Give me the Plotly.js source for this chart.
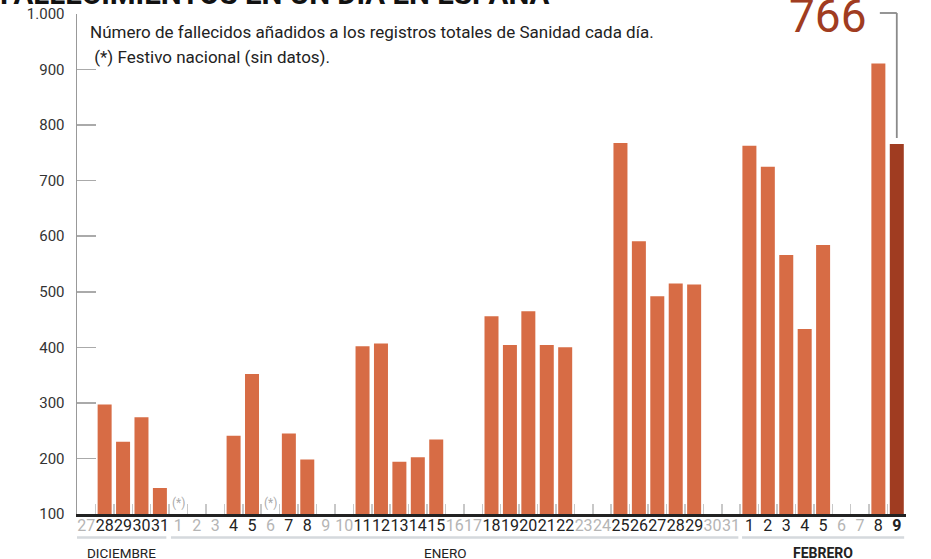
<!DOCTYPE html>
<html>
<head>
<meta charset="utf-8">
<script src="https://cdn.plot.ly/plotly-3.0.1.min.js"></script>
<style>html,body{margin:0;padding:0;background:#fff;}#chart{width:931px;height:559px;}</style>
</head>
<body>
<div id="chart"></div>
<script>
// ---- data ----
const dates = [
  "2020-12-27","2020-12-28","2020-12-29","2020-12-30","2020-12-31",
  "2021-01-01","2021-01-02","2021-01-03","2021-01-04","2021-01-05","2021-01-06","2021-01-07","2021-01-08","2021-01-09","2021-01-10",
  "2021-01-11","2021-01-12","2021-01-13","2021-01-14","2021-01-15","2021-01-16","2021-01-17","2021-01-18","2021-01-19","2021-01-20",
  "2021-01-21","2021-01-22","2021-01-23","2021-01-24","2021-01-25","2021-01-26","2021-01-27","2021-01-28","2021-01-29","2021-01-30","2021-01-31",
  "2021-02-01","2021-02-02","2021-02-03","2021-02-04","2021-02-05","2021-02-06","2021-02-07","2021-02-08","2021-02-09"
];
const dayLabels = [
  "27","28","29","30","31",
  "1","2","3","4","5","6","7","8","9","10",
  "11","12","13","14","15","16","17","18","19","20",
  "21","22","23","24","25","26","27","28","29","30","31",
  "1","2","3","4","5","6","7","8","9"
];
const deaths = [
  null,297,230,274,147,
  null,null,null,241,352,null,245,198,null,null,
  402,407,194,202,234,null,null,456,404,465,
  404,400,null,null,768,591,492,515,513,null,null,
  763,725,566,433,584,null,null,911,766
];
const holidays = ["2021-01-01","2021-01-06"];
const months = ["DICIEMBRE","ENERO","FEBRERO"];
const yTicks = [100,200,300,400,500,600,700,800,900,1000];

// ---- styling ----
const barColor = "#d76c45";
const lastColor = "#a03c21";
const lastIdx = deaths.length - 1;
const colors = deaths.map((v,i) => i === lastIdx ? lastColor : barColor);
const tickText = dayLabels.map((d,i) => {
  if (deaths[i] === null) return '<span style="color:#b5b5b5">' + d + '</span>';
  if (i === lastIdx) return '<b>' + d + '</b>';
  return d;
});

const FONT = "Roboto, 'Open Sans', sans-serif";
const lastVal = deaths[lastIdx];
const lastPaperY = (lastVal - 100) / 900;

const shapes = [
  // month brackets
  {type:'line', xref:'x', yref:'paper', x0:-0.5, x1:4.35, y0:-0.047, y1:-0.047, line:{color:'#d5d9dd', width:2.5}},
  {type:'line', xref:'x', yref:'paper', x0:4.6, x1:35.4, y0:-0.047, y1:-0.047, line:{color:'#d5d9dd', width:2.5}},
  {type:'line', xref:'x', yref:'paper', x0:35.6, x1:44.4, y0:-0.047, y1:-0.047, line:{color:'#d5d9dd', width:2.5}},
  // leader line for last value
  {type:'line', xref:'x', yref:'paper', x0:lastIdx-0.92, x1:lastIdx, y0:1.002, y1:1.002, line:{color:'#8a8a8a', width:1.8}},
  {type:'line', xref:'x', yref:'paper', x0:lastIdx, x1:lastIdx, y0:1.002, y1:lastPaperY + 0.012, line:{color:'#8a8a8a', width:1.8}}
];

const annotations = [
  {text:'Número de fallecidos añadidos a los registros totales de Sanidad cada día.', xref:'paper', yref:'paper', x:0.0133, y:0.964, xanchor:'left', yanchor:'middle', showarrow:false, font:{family:FONT, size:17, color:'#222'}},
  {text:' (*) Festivo nacional (sin datos).', xref:'paper', yref:'paper', x:0.0133, y:0.913, xanchor:'left', yanchor:'middle', showarrow:false, font:{family:FONT, size:17, color:'#222'}},
  {text:String(lastVal), xref:'x', yref:'paper', x:42.5, y:0.938, xanchor:'right', yanchor:'bottom', showarrow:false, font:{family:FONT, size:46, color:lastColor}},
  {text:months[0], xref:'x', yref:'paper', x:1.93, y:-0.078, xanchor:'center', yanchor:'middle', showarrow:false, font:{family:FONT, size:13.5, color:'#222'}},
  {text:months[1], xref:'x', yref:'paper', x:19.5, y:-0.078, xanchor:'center', yanchor:'middle', showarrow:false, font:{family:FONT, size:13.5, color:'#222'}},
  {text:'<b>' + months[2] + '</b>', xref:'x', yref:'paper', x:40, y:-0.078, xanchor:'center', yanchor:'middle', showarrow:false, font:{family:FONT, size:14, color:'#222'}}
];
holidays.forEach(h => {
  annotations.push({text:'(*)', xref:'x', yref:'y', x:h, y:100, xanchor:'center', yanchor:'bottom', yshift:2, showarrow:false, font:{family:FONT, size:12, color:'#aaa'}});
});

const data = [{
  type:'bar', x:dates, y:deaths, marker:{color:colors}, hoverinfo:'none'
}];

const layout = {
  width:931, height:559,
  margin:{l:77, r:25, t:14, b:45, pad:0},
  paper_bgcolor:'#fff', plot_bgcolor:'#fff',
  separators:',.',
  showlegend:false,
  bargap:0.24,
  font:{family:FONT, color:'#222'},
  title:{text:'<b>FALLECIMIENTOS EN UN DÍA EN ESPAÑA</b>', x:0, xref:'container', xanchor:'left', y:0.9935, yref:'container', yanchor:'bottom', font:{family:FONT, size:29.5, color:'#111'}},
  xaxis:{
    type:'category', range:[-0.5, 44.5], fixedrange:true,
    tickmode:'array', tickvals:dates, ticktext:tickText, tickson:'boundaries',
    ticks:'inside', ticklen:10, tickwidth:1.5, tickcolor:'#c8c8c8',
    showline:true, linecolor:'#222', linewidth:3,
    showgrid:false, zeroline:false, tickangle:0, ticklabelstandoff:-5,
    tickfont:{family:FONT, size:16, color:'#222'}
  },
  yaxis:{
    range:[100, 1000], fixedrange:true,
    tickmode:'array', tickvals:yTicks, tickformat:',d',
    ticks:'inside', ticklen:19, tickwidth:1.5, tickcolor:'#aaa',
    showline:true, linecolor:'#999', linewidth:1.5,
    showgrid:false, zeroline:false, ticklabelstandoff:8,
    tickfont:{family:FONT, size:15, color:'#333'}
  },
  shapes:shapes,
  annotations:annotations
};

Plotly.newPlot('chart', data, layout, {displayModeBar:false, staticPlot:true});
</script>
</body>
</html>
